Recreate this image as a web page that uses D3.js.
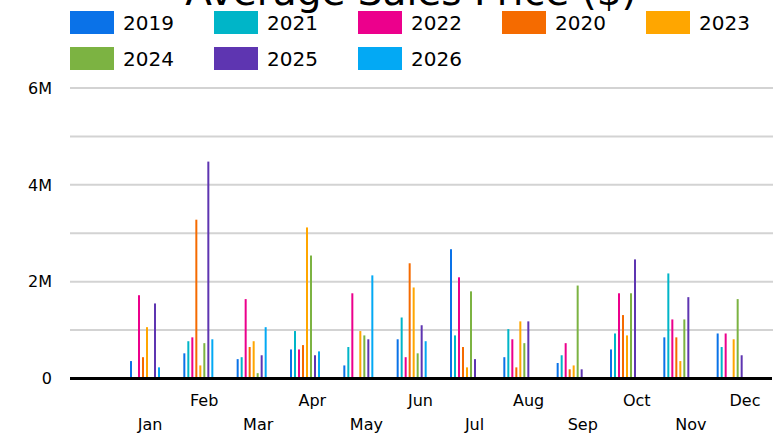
<!DOCTYPE html>
<html>
<head>
<meta charset="utf-8">
<script src="https://cdn.jsdelivr.net/npm/d3@7"></script>
<style>
  body { margin: 0; background: #fff; }
  text { font-family: 'DejaVu Sans', Verdana, sans-serif; }
</style>
</head>
<body>
<script>
const width = 776;
const height = 436;

const months = ['Jan', 'Feb', 'Mar', 'Apr', 'May', 'Jun', 'Jul', 'Aug', 'Sep', 'Oct', 'Nov', 'Dec'];
const series = ['2019', '2021', '2022', '2020', '2023', '2024', '2025', '2026'];
const colors = ['#0a72e8', '#00b5c8', '#ec008c', '#f56b00', '#ffa600', '#7cb342', '#5e35b1', '#03a9f4'];
const yTicks = [0, 2e6, 4e6, 6e6];

// values in millions, 0 = no bar
const v2019 = [0.36, 0.52, 0.40, 0.60, 0.27, 0.81, 2.67, 0.44, 0.32, 0.60, 0.85, 0.93];
const v2021 = [0, 0.77, 0.44, 0.98, 0.65, 1.26, 0.89, 1.02, 0.48, 0.93, 2.17, 0.65];
const v2022 = [1.72, 0.85, 1.64, 0.60, 1.76, 0.44, 2.09, 0.81, 0.73, 1.76, 1.22, 0.93];
const v2020 = [0.44, 3.28, 0.65, 0.69, 0, 2.38, 0.65, 0.23, 0.19, 1.31, 0.85, 0];
const v2023 = [1.06, 0.27, 0.77, 3.12, 0.98, 1.88, 0.23, 1.18, 0.27, 0.89, 0.36, 0.81];
const v2024 = [0, 0.73, 0.11, 2.54, 0.89, 0.52, 1.80, 0.73, 1.92, 1.76, 1.22, 1.64];
const v2025 = [1.55, 4.48, 0.48, 0.48, 0.81, 1.10, 0.40, 1.18, 0.19, 2.46, 1.68, 0.48];
const v2026 = [0.23, 0.81, 1.06, 0.56, 2.13, 0.77, 0, 0, 0, 0, 0, 0];

const valuesBySeries = [v2019, v2021, v2022, v2020, v2023, v2024, v2025, v2026];

const rows = [];
series.forEach((s, i) => {
  months.forEach((m, j) => {
    rows.push({ series: s, month: m, value: valuesBySeries[i][j] * 1e6, color: colors[i] });
  });
});

const svg = d3.select('body').append('svg')
  .attr('width', width)
  .attr('height', height);

const plotLeft = 70;
const plotRight = 773;

const y = d3.scaleLinear()
  .domain([0, 6e6])
  .range([378.5, 88]);

const x0 = d3.scaleBand()
  .domain(months)
  .range([125, 765]);

const x1 = d3.scaleBand()
  .domain(series)
  .range([5, 37]);

const xLabel = d3.scaleBand()
  .domain(months)
  .range([123, 772]);

// grid
svg.append('g')
  .selectAll('line')
  .data(d3.range(1, 7).map(d => d * 1e6))
  .enter().append('line')
    .attr('x1', plotLeft)
    .attr('x2', plotRight)
    .attr('y1', d => y(d))
    .attr('y2', d => y(d))
    .style('stroke', '#d3d3d3')
    .style('stroke-width', 2);

// y labels
svg.append('g')
  .selectAll('text')
  .data(yTicks)
  .enter().append('text')
    .attr('x', 52)
    .attr('y', d => y(d))
    .attr('dy', '0.36em')
    .attr('text-anchor', 'end')
    .style('font-size', '16px')
    .style('fill', '#000')
    .text(d => d === 0 ? '0' : d3.format('~s')(d));

// bars
svg.append('g')
  .selectAll('rect')
  .data(rows.filter(d => d.value > 0))
  .enter().append('rect')
    .attr('x', d => x0(d.month) + x1(d.series))
    .attr('y', d => y(d.value))
    .attr('width', 2)
    .attr('height', d => y(0) - y(d.value))
    .style('fill', d => d.color);

// baseline
svg.append('line')
  .attr('x1', plotLeft)
  .attr('x2', plotRight - 1)
  .attr('y1', y(0))
  .attr('y2', y(0))
  .style('stroke', '#000')
  .style('stroke-width', 3);

// x labels, staggered
svg.append('g')
  .selectAll('text')
  .data(months)
  .enter().append('text')
    .attr('x', d => xLabel(d) + xLabel.bandwidth() / 2)
    .attr('y', (d, i) => i % 2 === 0 ? 430 : 406)
    .attr('text-anchor', 'middle')
    .style('font-size', '16px')
    .style('fill', '#000')
    .text(d => d);

// title (clipped at top)
svg.append('text')
  .attr('x', 411)
  .attr('y', 5)
  .attr('text-anchor', 'middle')
  .style('font-size', '39px')
  .style('fill', '#000')
  .text('Average Sales Price ($)');

// legend
const legend = svg.append('g')
  .selectAll('g')
  .data(series)
  .enter().append('g')
    .attr('transform', (d, i) => `translate(${70 + (i % 5) * 144},${11 + Math.floor(i / 5) * 36})`);

legend.append('rect')
  .attr('width', 44)
  .attr('height', 23)
  .style('fill', (d, i) => colors[i]);

legend.append('text')
  .attr('x', 53)
  .attr('y', 19)
  .style('font-size', '20px')
  .style('fill', '#000')
  .text(d => d);
</script>
</body>
</html>
